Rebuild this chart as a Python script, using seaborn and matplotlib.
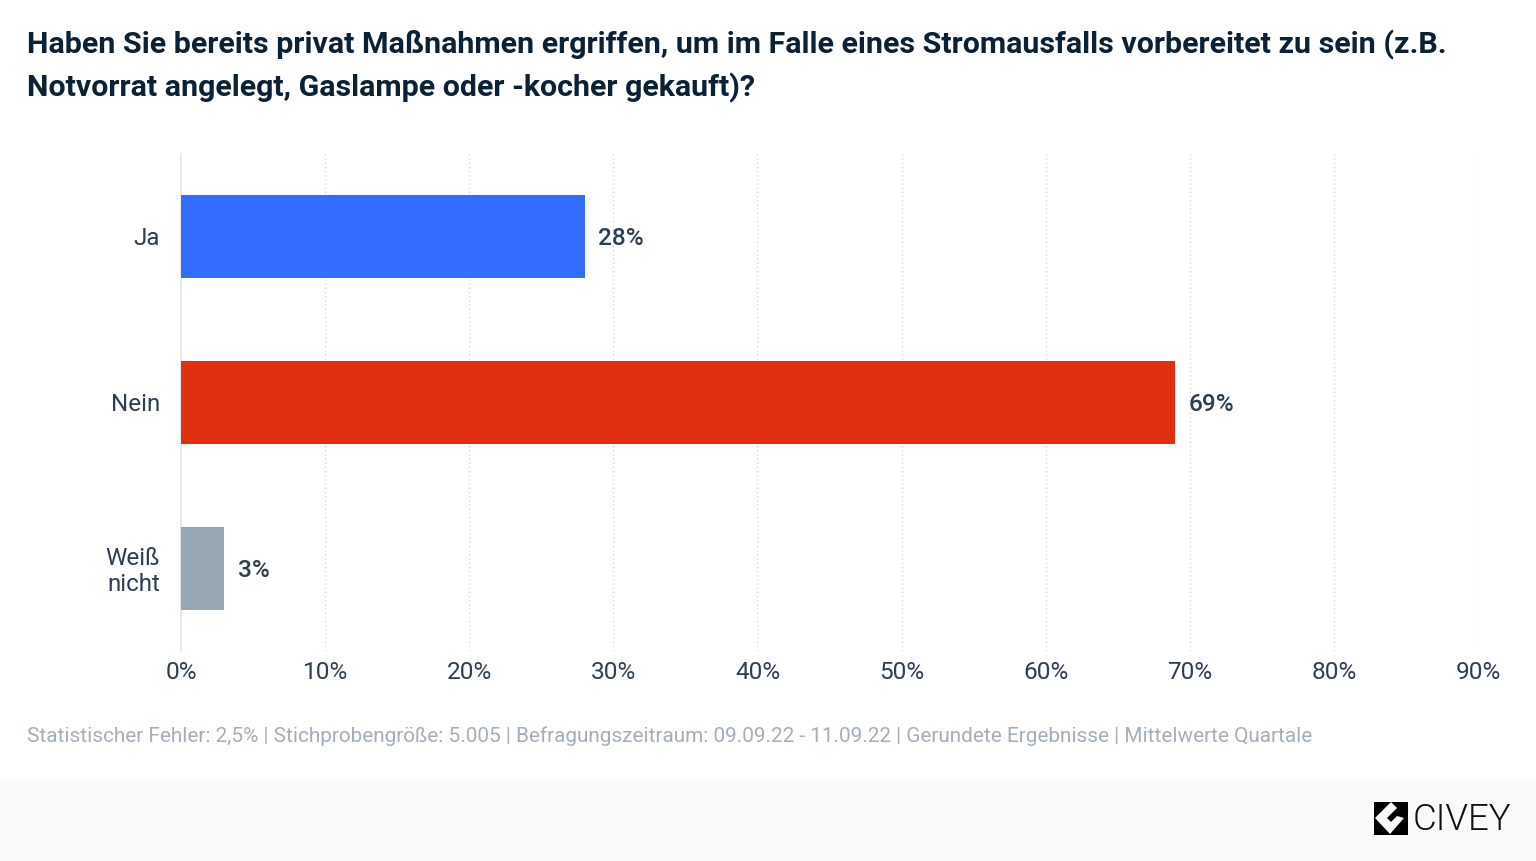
import matplotlib
matplotlib.use("Agg")
import matplotlib.pyplot as plt
from matplotlib.patches import Rectangle, Polygon
from matplotlib.transforms import ScaledTranslation
import pandas as pd
import seaborn as sns

categories = ["Ja", "Nein", "Weiß\nnicht"]
values = [28, 69, 3]
bar_colors = ["#336DFF", "#E12F12", "#97A6B3"]
value_labels = ["28%", "69%", "3%"]
x_ticks = [0, 10, 20, 30, 40, 50, 60, 70, 80, 90]
title_text = ("Haben Sie bereits privat Maßnahmen ergriffen, um im Falle eines Stromausfalls vorbereitet zu sein (z.B.\n"
              "Notvorrat angelegt, Gaslampe oder -kocher gekauft)?")
footnote = ("Statistischer Fehler: 2,5% | Stichprobengröße: 5.005 | Befragungszeitraum: 09.09.22 - 11.09.22 | "
            "Gerundete Ergebnisse | Mittelwerte Quartale")

sns.set_theme(style="white")
plt.rcParams["font.family"] = ["Roboto", "DejaVu Sans"]

W, H = 1536, 862
fig = plt.figure(figsize=(W / 100, H / 100), dpi=100, facecolor="white")
ax = fig.add_axes([181 / W, 1 - 652 / H, (1478 - 181) / W, (652 - 155) / H])

df = pd.DataFrame({"cat": categories, "val": values})
sns.barplot(data=df, y="cat", x="val", hue="cat", palette=bar_colors, legend=False,
            width=0.5, ax=ax, saturation=1, orient="h")
for c in ax.containers:
    for p in c:
        p.set_linewidth(0)

ax.set_xlim(0, 90)
ax.set_xticks(x_ticks)
ax.set_xticklabels([f"{t}%" for t in x_ticks])
ax.set_xlabel("")
ax.set_ylabel("")
ax.set_axisbelow(True)
ax.grid(axis="x", color="#D3D8DC", linestyle=(0, (1, 2)), linewidth=1.0)
ax.grid(axis="y", visible=False)
ax.get_xgridlines()[0].set_visible(False)
for s in ["top", "right", "bottom"]:
    ax.spines[s].set_visible(False)
ax.spines["left"].set_color("#E3E5E8")
ax.spines["left"].set_linewidth(1.2)
ax.spines["left"].set_zorder(0.5)
ax.tick_params(axis="x", length=0, pad=6.7, labelsize=17.6, labelcolor="#2C3E50")
ax.tick_params(axis="y", length=0, pad=15, labelsize=17.4, labelcolor="#2C3E50")
up = ScaledTranslation(0, 2 / 100, fig.dpi_scale_trans)
for lbl in ax.get_yticklabels():
    lbl.set_linespacing(1.17)
    lbl.set_transform(lbl.get_transform() + up)

for c, v, t in zip(ax.containers, values, value_labels):
    for txt in ax.bar_label(c, labels=[t], padding=10, fontsize=17.6, fontweight=500, color="#2C3E50"):
        txt.set_va("center_baseline")
        txt.xyann = (9.8, 1)

fig.text(27 / W, 1 - 44.5 / H, title_text.split("\n")[0], fontsize=21.9, fontweight=600,
         color="#0B2136", va="center", ha="left")
fig.text(27 / W, 1 - 87.5 / H, title_text.split("\n")[1], fontsize=21.9, fontweight=600,
         color="#0B2136", va="center", ha="left")
fig.text(27 / W, 1 - 736.5 / H, footnote, fontsize=14.95, color="#A4AFB9", va="center", ha="left")

# footer band
fig.add_artist(Rectangle((0, 0), 1, (H - 778) / H, transform=fig.transFigure,
                         facecolor="#FAFAFA", edgecolor="none", zorder=0))

# logo
def px(pts):
    return [(x / W, 1 - y / H) for x, y in pts]
fig.add_artist(Polygon(px([(1374, 803), (1408, 803), (1408, 836), (1374, 836)]),
                       transform=fig.transFigure, facecolor="#000000", edgecolor="none", zorder=2))
fig.add_artist(Polygon(px([(1375, 819), (1391, 803), (1397, 809), (1387, 819), (1391, 823),
                           (1397, 817), (1404, 819), (1390, 835)]),
                       transform=fig.transFigure, facecolor="#FAFAFA", edgecolor="none", zorder=3))
fig.text(1413 / W, 1 - 820 / H, "CIVEY", fontsize=26.4, color="#111111", va="center", ha="left",
         fontweight=300, zorder=3)

fig.savefig("out.png", dpi=100, facecolor="white")
